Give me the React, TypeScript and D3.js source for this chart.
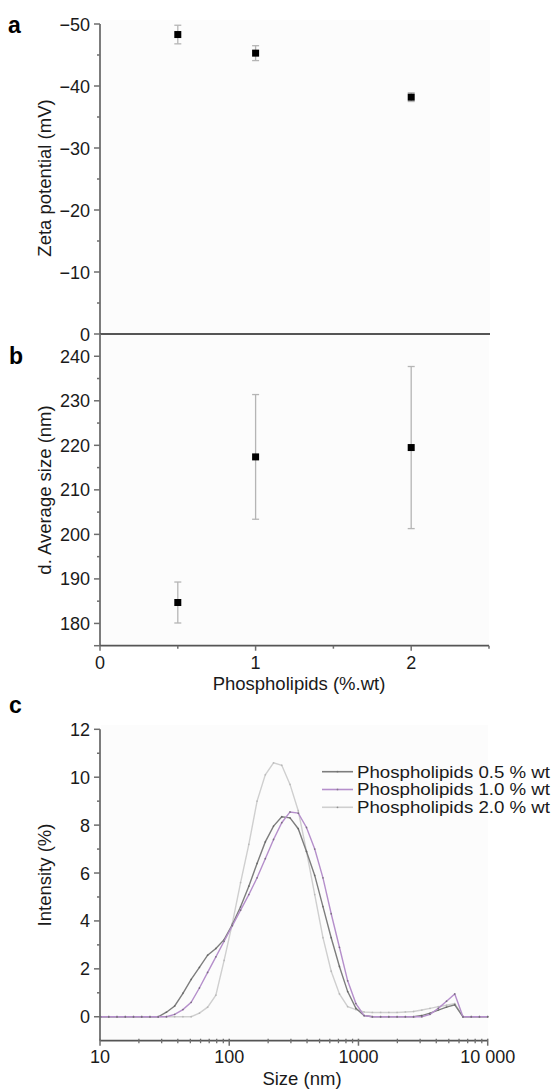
import React from 'react';
import * as d3 from 'd3';

const phosLevels = [0.5, 1, 2];
const zetaMean = [-48.3, -45.3, -38.2];
const zetaErr = [1.5, 1.2, 0.7];
const sizeMean = [184.7, 217.4, 219.5];
const sizeErr = [4.6, 14.0, 18.2];

const zetaTicks = [0, -10, -20, -30, -40, -50];
const zetaMinor = [-5, -15, -25, -35, -45];
const sizeTicks = [180, 190, 200, 210, 220, 230, 240];
const sizeMinor = [185, 195, 205, 215, 225, 235];
const phosTicks = [0, 1, 2];
const phosMinor = [0.5, 1.5, 2.5];
const intensityTicks = [0, 2, 4, 6, 8, 10, 12];
const intensityMinor = [1, 3, 5, 7, 9, 11];
const sizeAxisTicks = [10, 100, 1000, 10000];
const sizeAxisLabels = ['10', '100', '1000', '10 000'];

const sizeBins = [10.1, 11.7, 13.54, 15.69, 18.17, 21.04, 24.36, 28.21, 32.67, 37.84, 43.82, 50.75, 58.77, 68.06, 78.82, 91.28, 105.7, 122.4, 141.8, 164.2, 190.1, 220.2, 255.0, 295.3, 342.0, 396.1, 458.7, 531.2, 615.1, 712.4, 825.0, 955.4, 1106, 1281, 1484, 1718, 1990, 2305, 2669, 3091, 3580, 4145, 4801, 5560, 6439, 7456, 8635, 10000];
const int05 = [0, 0, 0, 0, 0, 0, 0, 0, 0.19, 0.45, 0.98, 1.56, 2.06, 2.57, 2.85, 3.22, 3.85, 4.59, 5.45, 6.4, 7.3, 7.96, 8.35, 8.3, 7.85, 6.9, 5.9, 4.6, 3.3, 2.1, 1.05, 0.35, 0.05, 0, 0, 0, 0, 0, 0, 0.05, 0.15, 0.28, 0.4, 0.5, 0, 0, 0, 0];
const int10 = [0, 0, 0, 0, 0, 0, 0, 0, 0, 0.1, 0.3, 0.6, 1.2, 1.85, 2.5, 3.15, 3.8, 4.45, 5.1, 5.8, 6.6, 7.4, 8.1, 8.55, 8.5, 7.9, 7.0, 5.8, 4.3, 2.9, 1.5, 0.55, 0.05, 0, 0, 0, 0, 0, 0, 0, 0.1, 0.35, 0.65, 0.95, 0, 0, 0, 0];
const int20 = [0, 0, 0, 0, 0, 0, 0, 0, 0, 0, 0, 0, 0.15, 0.4, 0.9, 2.35, 3.9, 5.6, 7.2, 9.0, 10.1, 10.6, 10.5, 9.7, 8.6, 6.9, 5.1, 3.3, 1.9, 0.95, 0.42, 0.3, 0.2, 0.18, 0.18, 0.18, 0.18, 0.2, 0.22, 0.28, 0.35, 0.42, 0.48, 0.55, 0, 0, 0, 0];
const seriesNames = ['Phospholipids 0.5 % wt', 'Phospholipids 1.0 % wt', 'Phospholipids 2.0 % wt'];
const seriesData = [int05, int10, int20];
const seriesColors = ['#7d7d7d', '#b58fcb', '#cfcfcf'];

const FONT = '"Liberation Sans", Arial, Helvetica, sans-serif';
const AXIS = '#6e6e6e';

const fmt = (v: number) => (v < 0 ? '\u2212' + Math.abs(v) : String(v));

export default function App() {
  const xAB = d3.scaleLinear().domain([0, 2.5]).range([100, 489]);
  const yA = d3.scaleLinear().domain([0, -50]).range([334, 24]);
  const yB = d3.scaleLinear().domain([175, 245]).range([645.7, 334]);
  const xC = d3.scaleLog().domain([10, 10000]).range([100, 487.7]);
  const yC = d3.scaleLinear().domain([-1, 12]).range([1040.7, 729.3]);

  const minorLog: number[] = [];
  [10, 100, 1000].forEach((d) => {
    for (let k = 2; k <= 9; k++) minorLog.push(d * k);
  });

  const line = d3
    .line<number>()
    .x((_, i) => xC(sizeBins[i]))
    .y((v) => yC(v));

  const yAxis = (
    scale: d3.ScaleLinear<number, number>,
    major: number[],
    minor: number[],
    key: string
  ) => (
    <g key={key}>
      {major.map((t) => (
        <g key={'M' + t}>
          <line x1={94} x2={100} y1={scale(t)} y2={scale(t)} stroke={AXIS} strokeWidth={1.5} />
          <text x={90} y={scale(t) + 6.5} textAnchor="end" fontSize={18} fill="#1a1a1a">
            {fmt(t)}
          </text>
        </g>
      ))}
      {minor.map((t) => (
        <line key={'m' + t} x1={97} x2={100} y1={scale(t)} y2={scale(t)} stroke={AXIS} strokeWidth={1.5} />
      ))}
    </g>
  );

  const errBar = (cx: number, y1: number, y2: number, key: string) => (
    <g key={key} stroke="#b5b5b5" strokeWidth={1.3}>
      <line x1={cx} x2={cx} y1={y1} y2={y2} />
      <line x1={cx - 3.5} x2={cx + 3.5} y1={y1} y2={y1} />
      <line x1={cx - 3.5} x2={cx + 3.5} y1={y2} y2={y2} />
    </g>
  );

  return (
    <svg
      width={552}
      height={1089}
      style={{ position: 'absolute', left: 0, top: 0, background: '#fff' }}
      fontFamily={FONT}
    >
      {/* faint plot backgrounds */}
      <rect x={101} y={20} width={389} height={313} fill="#fcfcfc" />
      <rect x={101} y={335} width={388} height={310} fill="#fcfcfc" />
      <rect x={101} y={725} width={387} height={316} fill="#fcfcfc" />

      {/* panel letters */}
      <text x={8} y={33} fontSize={23} fontWeight="bold">a</text>
      <text x={9} y={364} fontSize={23} fontWeight="bold">b</text>
      <text x={9} y={713} fontSize={23} fontWeight="bold">c</text>

      {/* Panel a */}
      <line x1={100} x2={100} y1={yA(-50)} y2={yA(0)} stroke={AXIS} strokeWidth={1.8} />
      <line x1={100} x2={490} y1={yA(0)} y2={yA(0)} stroke="#555" strokeWidth={1.8} />
      {yAxis(yA, zetaTicks, zetaMinor, 'ya')}
      <text
        transform={`translate(51,${178}) rotate(-90)`}
        textAnchor="middle"
        fontSize={18.5}
        fill="#1a1a1a"
      >
        Zeta potential (mV)
      </text>
      {phosLevels.map((p, i) =>
        errBar(xAB(p), yA(zetaMean[i] - zetaErr[i]), yA(zetaMean[i] + zetaErr[i]), 'ea' + i)
      )}
      {phosLevels.map((p, i) => (
        <rect key={'pa' + i} x={xAB(p) - 3.5} y={yA(zetaMean[i]) - 3.5} width={7} height={7} fill="#000" />
      ))}

      {/* Panel b */}
      <line x1={100} x2={100} y1={yB(245)} y2={yB(175)} stroke={AXIS} strokeWidth={1.8} />
      <line x1={100} x2={489} y1={yB(175)} y2={yB(175)} stroke="#555" strokeWidth={1.8} />
      {yAxis(yB, sizeTicks, sizeMinor, 'yb')}
      <line x1={94} x2={100} y1={yB(175)} y2={yB(175)} stroke={AXIS} strokeWidth={1.5} />
      {phosTicks.map((t) => (
        <g key={'xb' + t}>
          <line x1={xAB(t)} x2={xAB(t)} y1={yB(175)} y2={yB(175) + 5} stroke={AXIS} strokeWidth={1.5} />
          <text x={xAB(t)} y={669} textAnchor="middle" fontSize={18} fill="#1a1a1a">
            {t}
          </text>
        </g>
      ))}
      {phosMinor.map((t) => (
        <line key={'xbm' + t} x1={xAB(t)} x2={xAB(t)} y1={yB(175)} y2={yB(175) + 3} stroke={AXIS} strokeWidth={1.5} />
      ))}
      <text x={299} y={690} textAnchor="middle" fontSize={18.5} fill="#1a1a1a">
        Phospholipids (%.wt)
      </text>
      <text
        transform={`translate(51,${490}) rotate(-90)`}
        textAnchor="middle"
        fontSize={18.5}
        fill="#1a1a1a"
      >
        d. Average size (nm)
      </text>
      {phosLevels.map((p, i) =>
        errBar(xAB(p), yB(sizeMean[i] - sizeErr[i]), yB(sizeMean[i] + sizeErr[i]), 'eb' + i)
      )}
      {phosLevels.map((p, i) => (
        <rect key={'pb' + i} x={xAB(p) - 3.5} y={yB(sizeMean[i]) - 3.5} width={7} height={7} fill="#000" />
      ))}

      {/* Panel c */}
      <line x1={100} x2={100} y1={yC(12)} y2={yC(-1)} stroke={AXIS} strokeWidth={1.8} />
      <line x1={100} x2={487.7} y1={yC(-1)} y2={yC(-1)} stroke="#555" strokeWidth={1.8} />
      {yAxis(yC, intensityTicks, intensityMinor, 'yc')}
      {sizeAxisTicks.map((t, i) => (
        <g key={'xc' + t}>
          <line x1={xC(t)} x2={xC(t)} y1={yC(-1) - 2} y2={yC(-1) + 5} stroke={AXIS} strokeWidth={1.5} />
          <text x={xC(t)} y={1063} textAnchor="middle" fontSize={18} fill="#1a1a1a">
            {sizeAxisLabels[i]}
          </text>
        </g>
      ))}
      {minorLog.map((t) => (
        <line key={'xcm' + t} x1={xC(t)} x2={xC(t)} y1={yC(-1) - 2} y2={yC(-1) + 2.5} stroke={AXIS} strokeWidth={1.3} />
      ))}
      <text x={302} y={1085} textAnchor="middle" fontSize={18.5} fill="#1a1a1a">
        Size (nm)
      </text>
      <text
        transform={`translate(51,${875}) rotate(-90)`}
        textAnchor="middle"
        fontSize={18.5}
        fill="#1a1a1a"
      >
        Intensity (%)
      </text>
      {[2, 0, 1].map((s) => (
        <g key={'s' + s}>
          <path d={line(seriesData[s]) || ''} fill="none" stroke={seriesColors[s]} strokeWidth={1.4} />
          {seriesData[s].map((v, i) => (
            <circle key={i} cx={xC(sizeBins[i])} cy={yC(v)} r={0.9} fill={s === 2 ? '#aaa' : '#555'} opacity={0.6} />
          ))}
        </g>
      ))}
      {/* legend */}
      {seriesNames.map((n, i) => {
        const y = 771.7 + i * 17.8;
        return (
          <g key={'lg' + i}>
            <line x1={322} x2={353} y1={y} y2={y} stroke={seriesColors[i]} strokeWidth={1.6} />
            <circle cx={337.5} cy={y} r={0.9} fill="#666" opacity={0.6} />
            <text x={357} y={y + 5.8} fontSize={16} fill="#1a1a1a" textLength={193} lengthAdjust="spacingAndGlyphs">
              {n}
            </text>
          </g>
        );
      })}
    </svg>
  );
}
